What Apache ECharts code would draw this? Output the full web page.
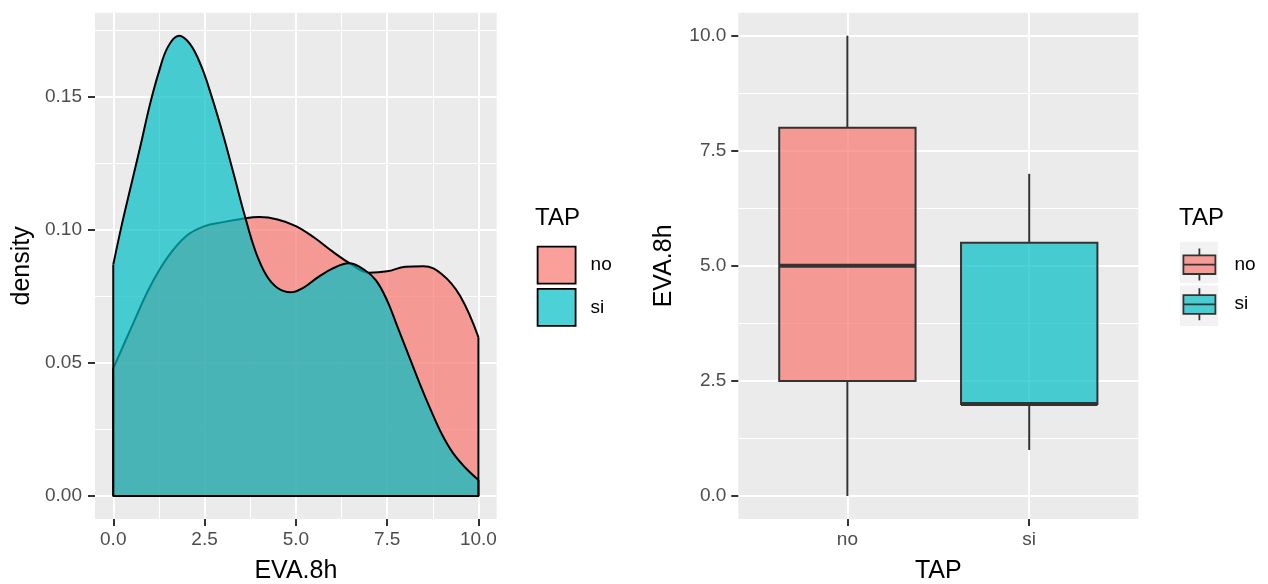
<!DOCTYPE html>
<html>
<head>
<meta charset="utf-8">
<script src="https://cdn.jsdelivr.net/npm/echarts@6/dist/echarts.min.js"></script>
<style>
  html, body { margin: 0; padding: 0; background: #ffffff; }
  #chart { width: 1268px; height: 584px; }
</style>
</head>
<body>
<div id="chart"></div>
<script>
// ---------- data ----------
const groups = ['no', 'si'];

// density of EVA.8h, group "no"
const noX = [0, 0.5, 1.0, 1.5, 2.0, 2.5, 3.0, 3.5, 4.0, 4.5, 5.0, 5.5, 6.0, 6.5, 7.0, 7.5, 8.0, 8.5, 9.0, 9.5, 10];
const noY = [0.0480, 0.0635, 0.0785, 0.0900, 0.0978, 0.1015, 0.1030, 0.1042, 0.1049, 0.1040, 0.1015, 0.0972, 0.0920, 0.0873, 0.0840, 0.0845, 0.0862, 0.0864, 0.0834, 0.0752, 0.0597];

// density of EVA.8h, group "si"
const siX = [0, 0.25, 0.5, 0.75, 1.0, 1.25, 1.5, 1.8, 2.1, 2.4, 2.7, 3.0, 3.3, 3.6, 3.9, 4.2, 4.5, 4.85, 5.2, 5.6, 6.0, 6.45, 6.9, 7.2, 7.5, 7.8, 8.1, 8.4, 8.7, 9.0, 9.3, 9.65, 10];
const siY = [0.0870, 0.1030, 0.1175, 0.1320, 0.1470, 0.1595, 0.1690, 0.1731, 0.1700, 0.1620, 0.1500, 0.1362, 0.1210, 0.1055, 0.0918, 0.0828, 0.0782, 0.0766, 0.0783, 0.0822, 0.0855, 0.0875, 0.0848, 0.0810, 0.0735, 0.0630, 0.0525, 0.0420, 0.0322, 0.0232, 0.0162, 0.0105, 0.0060];

// boxplot statistics of EVA.8h by TAP
const boxPos = [1, 2];
const boxMin = [0, 1];
const boxQ1  = [2.5, 2];
const boxMed = [5, 2];
const boxQ3  = [8, 5.5];
const boxMax = [10, 7];

// tick labels / breaks
const densXTicks = [0, 2.5, 5, 7.5, 10];
const densXMinor = [1.25, 3.75, 6.25, 8.75];
const densYTicks = [0, 0.05, 0.10, 0.15];
const densYMinor = [0.025, 0.075, 0.125, 0.175];
const boxYTicks = [0, 2.5, 5, 7.5, 10];
const boxYMinor = [1.25, 3.75, 6.25, 8.75];

// ---------- styles ----------
const FONT = "'Liberation Sans', Arial, Helvetica, sans-serif";
const fills = ['rgba(248,118,109,0.7)', 'rgba(0,191,196,0.7)'];
const TICK_COLOR = '#4D4D4D';

function majorAxis(extra) {
  return Object.assign({
    type: 'value',
    axisLine: { show: false, onZero: false },
    splitLine: { show: true, lineStyle: { color: '#ffffff', width: 2, type: 'solid' } },
    nameLocation: 'middle',
    nameMoveOverlap: false,
    nameTextStyle: { fontSize: 25, color: '#000000', fontFamily: FONT }
  }, extra);
}
function minorAxis(extra) {
  return Object.assign({
    type: 'value',
    axisLine: { show: false, onZero: false },
    axisLabel: { show: false },
    splitLine: { show: true, lineStyle: { color: '#ffffff', width: 1, type: 'solid' } }
  }, extra);
}
function tickStyle(values) {
  return { show: true, length: 7, lineStyle: { color: '#333333', width: 2 }, customValues: values };
}

function renderBox(params, api) {
  const x = api.value(0);
  const pMin = api.coord([x, api.value(1)]);
  const pQ1 = api.coord([x, api.value(2)]);
  const pMed = api.coord([x, api.value(3)]);
  const pQ3 = api.coord([x, api.value(4)]);
  const pMax = api.coord([x, api.value(5)]);
  const w = api.size([0.75, 0])[0];
  const fill = api.visual('color');
  const stroke = { stroke: '#333333', lineWidth: 2 };
  return {
    type: 'group',
    children: [
      { type: 'line', shape: { x1: pMin[0], y1: pMin[1], x2: pQ1[0], y2: pQ1[1] }, style: stroke },
      { type: 'line', shape: { x1: pQ3[0], y1: pQ3[1], x2: pMax[0], y2: pMax[1] }, style: stroke },
      { type: 'rect', shape: { x: pQ1[0] - w / 2, y: pQ3[1], width: w, height: pQ1[1] - pQ3[1] },
        style: { fill: fill, stroke: '#333333', lineWidth: 2 } },
      { type: 'line', shape: { x1: pMed[0] - w / 2, y1: pMed[1], x2: pMed[0] + w / 2, y2: pMed[1] },
        style: { stroke: '#333333', lineWidth: 4 } }
    ]
  };
}

function densitySeries(name, xs, ys, fill, z) {
  const pts = xs.map((x, i) => [x, ys[i]]);
  const last = xs.length - 1;
  return [
    {
      name: name, type: 'line', xAxisIndex: 0, yAxisIndex: 0,
      data: pts, smooth: 0.4, symbol: 'none', showSymbol: false,
      lineStyle: { color: '#000000', width: 2 },
      itemStyle: { color: fill },
      areaStyle: { color: fill, opacity: 1 },
      z: z
    },
    {
      name: name + '-edge', type: 'line', xAxisIndex: 0, yAxisIndex: 0,
      data: [[xs[0], ys[0]], [xs[0], 0], [xs[last], 0], [xs[last], ys[last]]],
      symbol: 'none', showSymbol: false,
      lineStyle: { color: '#000000', width: 2 },
      z: z
    }
  ];
}

const boxGlyph = 'path://M50,0L50,21.5M0,21.5L100,21.5L100,80L0,80ZM0,50.7L100,50.7M50,80L50,100';

const option = {
  animation: false,
  backgroundColor: '#ffffff',
  textStyle: { fontFamily: FONT },
  grid: [
    { left: 95, top: 12.7, width: 401.7, height: 506.3, show: true, backgroundColor: '#EBEBEB', borderWidth: 0, containLabel: false, outerBoundsMode: 'none' },
    { left: 738.3, top: 12.7, width: 400, height: 506.3, show: true, backgroundColor: '#EBEBEB', borderWidth: 0, containLabel: false, outerBoundsMode: 'none' }
  ],
  title: [
    { text: 'TAP', left: 535, top: 206, padding: 0, textStyle: { fontSize: 24, fontWeight: 'normal', color: '#000000', fontFamily: FONT } },
    { text: 'TAP', left: 1179, top: 206, padding: 0, textStyle: { fontSize: 24, fontWeight: 'normal', color: '#000000', fontFamily: FONT } }
  ],
  legend: [
    {
      orient: 'vertical', left: 536.7, top: 245.7, padding: 0,
      itemWidth: 38, itemHeight: 37, itemGap: 3.5, selectedMode: false,
      data: groups.map((g, i) => ({ name: g, icon: 'rect',
        itemStyle: { color: fills[i], borderColor: '#000000', borderWidth: 1.8 } })),
      textStyle: { fontSize: 19, color: '#000000', fontFamily: FONT, padding: [0, 0, 0, 10] }
    },
    {
      orient: 'vertical', left: 1182.5, top: 247.5, padding: 0,
      itemWidth: 32, itemHeight: 34.5, itemGap: 6, selectedMode: false,
      data: groups.map((g, i) => ({ name: g, icon: boxGlyph,
        itemStyle: { color: fills[i], borderColor: '#333333', borderWidth: 1.8 } })),
      textStyle: { fontSize: 19, color: '#000000', fontFamily: FONT, padding: [0, 0, 0, 14] }
    }
  ],
  graphic: [
    { type: 'rect', left: 1180, top: 241.7, shape: { width: 38, height: 41.6 }, style: { fill: '#F2F2F2' }, z: -1 },
    { type: 'rect', left: 1180, top: 285.5, shape: { width: 38, height: 40.5 }, style: { fill: '#F2F2F2' }, z: -1 }
  ],
  xAxis: [
    majorAxis({
      gridIndex: 0, min: -0.5, max: 10.5, name: 'EVA.8h', nameGap: 40, position: 'bottom',
      axisTick: tickStyle(densXTicks),
      axisLabel: { customValues: densXTicks, formatter: v => Number(v).toFixed(1), color: TICK_COLOR, fontSize: 19, margin: 11, fontFamily: FONT }
    }),
    minorAxis({ gridIndex: 0, min: -0.5, max: 10.5, position: 'top', axisTick: { show: false, customValues: densXMinor } }),
    majorAxis({
      gridIndex: 1, min: 0.4, max: 2.6, name: 'TAP', nameGap: 40, position: 'bottom',
      axisTick: tickStyle(boxPos),
      axisLabel: { customValues: boxPos, formatter: v => groups[boxPos.indexOf(Number(v))], color: TICK_COLOR, fontSize: 19, margin: 11, fontFamily: FONT }
    })
  ],
  yAxis: [
    majorAxis({
      gridIndex: 0, min: -0.00866, max: 0.18176, name: 'density', nameGap: 60, nameRotate: 90, position: 'left',
      axisTick: tickStyle(densYTicks),
      axisLabel: { customValues: densYTicks, formatter: v => Number(v).toFixed(2), color: TICK_COLOR, fontSize: 19, margin: 13, fontFamily: FONT }
    }),
    minorAxis({ gridIndex: 0, min: -0.00866, max: 0.18176, position: 'right', axisTick: { show: false, customValues: densYMinor } }),
    majorAxis({
      gridIndex: 1, min: -0.5, max: 10.5, name: 'EVA.8h', nameGap: 62, nameRotate: 90, position: 'left',
      axisTick: tickStyle(boxYTicks),
      axisLabel: { customValues: boxYTicks, formatter: v => Number(v).toFixed(1), color: TICK_COLOR, fontSize: 19, margin: 12, fontFamily: FONT }
    }),
    minorAxis({ gridIndex: 1, min: -0.5, max: 10.5, position: 'right', axisTick: { show: false, customValues: boxYMinor } })
  ],
  series: [].concat(
    densitySeries(groups[0], noX, noY, fills[0], 2),
    densitySeries(groups[1], siX, siY, fills[1], 3),
    groups.map((g, i) => ({
      name: g, type: 'custom', xAxisIndex: 2, yAxisIndex: 2,
      itemStyle: { color: fills[i] },
      renderItem: renderBox,
      data: [[boxPos[i], boxMin[i], boxQ1[i], boxMed[i], boxQ3[i], boxMax[i]]],
      z: 3
    }))
  )
};

const chart = echarts.init(document.getElementById('chart'), null, { renderer: 'canvas' });
chart.setOption(option);
</script>
</body>
</html>
